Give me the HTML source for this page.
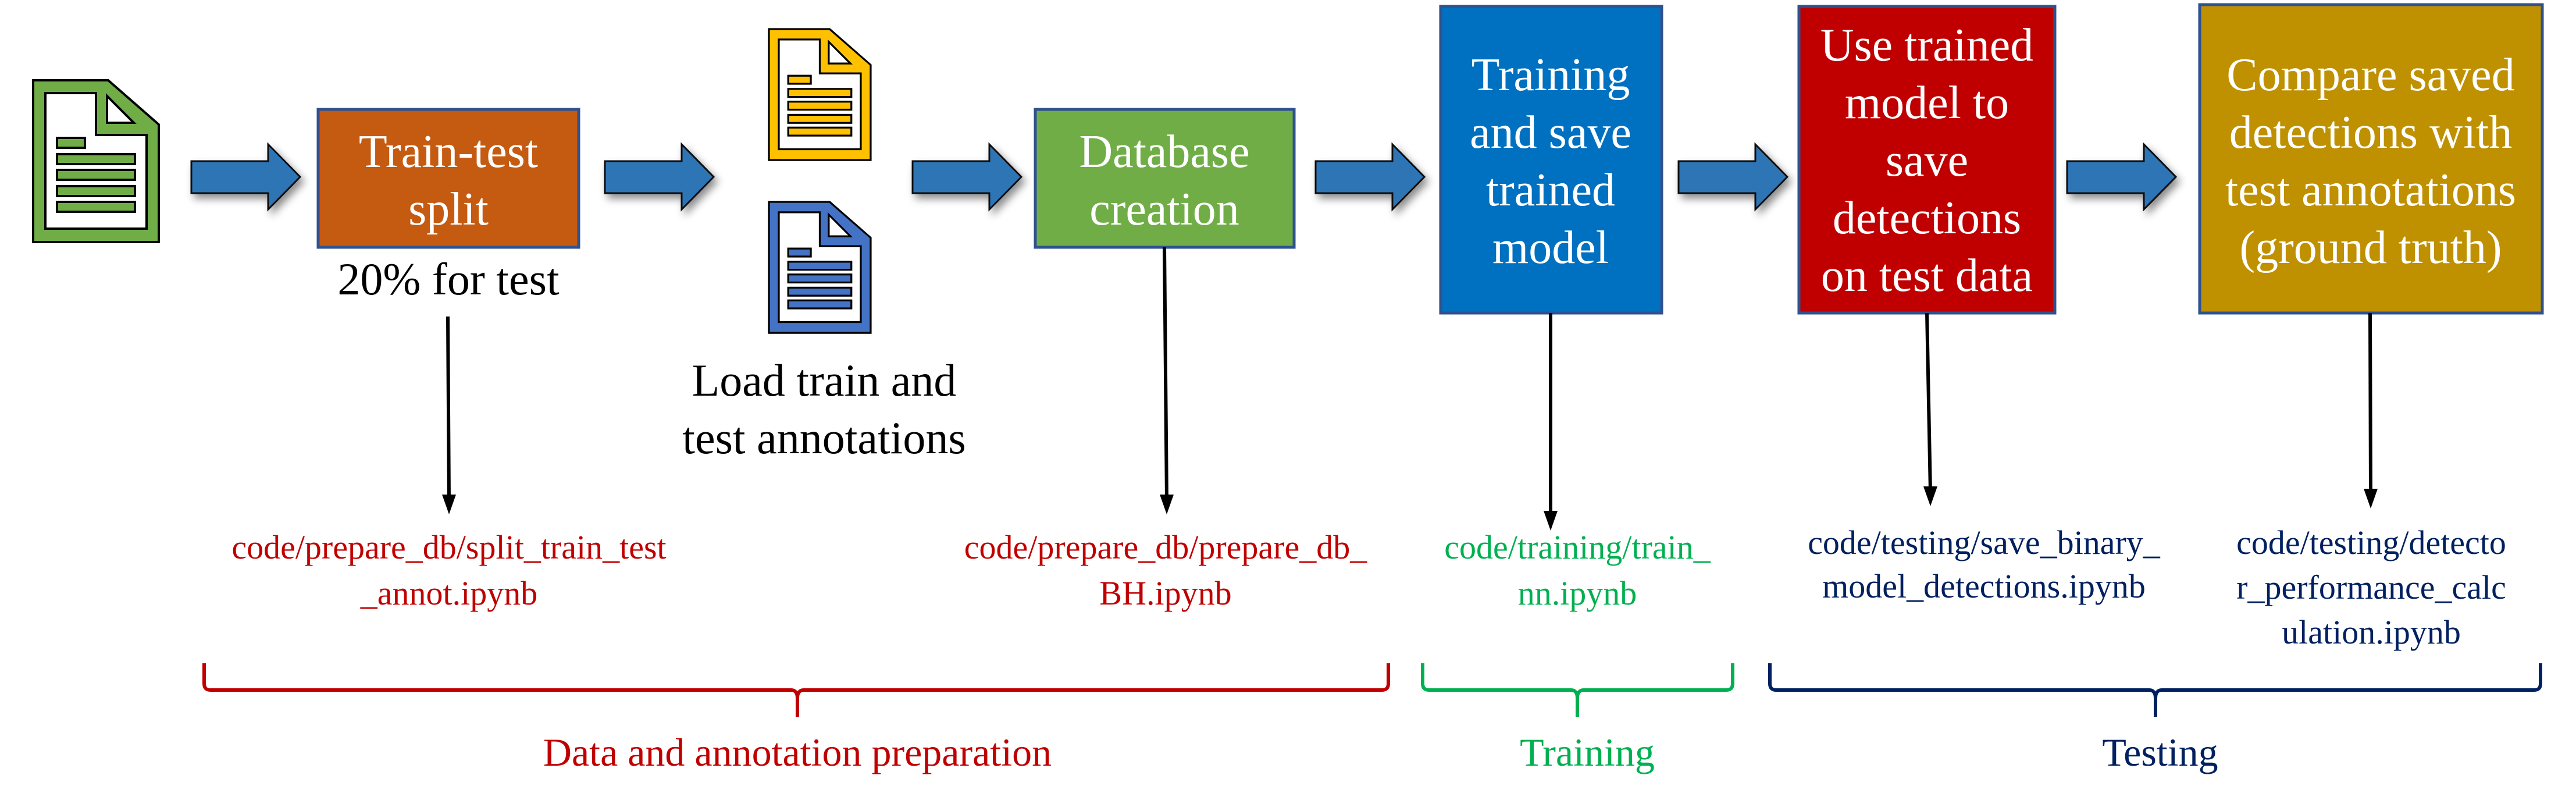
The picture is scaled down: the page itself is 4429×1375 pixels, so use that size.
<!DOCTYPE html>
<html><head><meta charset="utf-8"><style>
html,body{margin:0;padding:0;background:#fff;}
svg{display:block;font-family:"Liberation Serif","Times New Roman",serif;}
svg text{font-family:"Liberation Serif","Times New Roman",serif;}
</style></head><body>
<svg width="4429" height="1375" viewBox="0 0 4429 1375" xmlns="http://www.w3.org/2000/svg" font-family="Liberation Serif, serif">
<defs>
<filter id="sh" x="-20%" y="-30%" width="150%" height="170%"><feDropShadow dx="6" dy="8" stdDeviation="7" flood-color="#000" flood-opacity="0.45"/></filter>
<g id="arrow"><polygon points="0,29 132,29 132,0 187,56 132,112 132,84 0,84" fill="#2E75B6" stroke="#111" stroke-width="3" filter="url(#sh)"/></g>
<g id="docbase" stroke="#000" stroke-width="4">
<polygon points="0,0 129,0 216,76 216,278 0,278"/>
<polygon points="21,22 108,22 108,94 195,94 195,255 21,255" fill="#fff"/>
<polygon points="127,27 127,73 173,73" fill="#fff"/>
<rect x="41" y="99" width="48" height="17"/>
<rect x="41" y="127" width="134" height="17"/>
<rect x="41" y="154" width="134" height="17"/>
<rect x="41" y="182" width="134" height="17"/>
<rect x="41" y="209" width="134" height="17"/>
</g>
<marker id="ah" markerWidth="24" markerHeight="36" refX="12" refY="34" orient="auto-start-reverse" markerUnits="userSpaceOnUse" viewBox="0 0 24 36"><path d="M0,0 L24,0 L12,36z" fill="#000" transform="rotate(-90 12 18)"/></marker>
</defs>

<g transform="translate(57,138)" fill="#70AD47"><use href="#docbase"/></g>
<g transform="translate(1322,50) scale(0.81)" fill="#FFC000"><use href="#docbase"/></g>
<g transform="translate(1322,347) scale(0.81)" fill="#4472C4"><use href="#docbase"/></g>

<use href="#arrow" transform="translate(329,248)"/>
<use href="#arrow" transform="translate(1040,248)"/>
<use href="#arrow" transform="translate(1569,248)"/>
<use href="#arrow" transform="translate(2262,248)"/>
<use href="#arrow" transform="translate(2886,248)"/>
<use href="#arrow" transform="translate(3554,248)"/>

<rect x="547" y="188" width="448" height="237" fill="#C55A11" stroke="#2F528F" stroke-width="5"/>
<rect x="1780" y="188" width="445" height="237" fill="#70AD47" stroke="#2F528F" stroke-width="5"/>
<rect x="2477" y="11" width="380" height="527" fill="#0070C0" stroke="#2F528F" stroke-width="5"/>
<rect x="3093" y="11" width="440" height="527" fill="#C00000" stroke="#2F528F" stroke-width="5"/>
<rect x="3782" y="8" width="589" height="530" fill="#BF9000" stroke="#2F528F" stroke-width="5"/>

<g fill="#fff" font-size="80" text-anchor="middle" font-family="Liberation Serif, serif">
<text x="771" y="287">Train-test</text>
<text x="771" y="386">split</text>
<text x="2002" y="287">Database</text>
<text x="2002" y="386">creation</text>
<text x="2666" y="155">Training</text>
<text x="2666" y="254">and save</text>
<text x="2666" y="353">trained</text>
<text x="2666" y="452">model</text>
<text x="3313" y="104">Use trained</text>
<text x="3313" y="203">model to</text>
<text x="3313" y="302">save</text>
<text x="3313" y="401">detections</text>
<text x="3313" y="500">on test data</text>
<text x="4076" y="155">Compare saved</text>
<text x="4076" y="254">detections with</text>
<text x="4076" y="353">test annotations</text>
<text x="4076" y="452">(ground truth)</text>
</g>

<g fill="#000" font-size="78" text-anchor="middle" font-family="Liberation Serif, serif">
<text x="771" y="506">20% for test</text>
<text x="1417" y="680">Load train and</text>
<text x="1417" y="779">test annotations</text>
</g>

<g stroke="#000" stroke-width="6" fill="none">
<line x1="770" y1="544" x2="772" y2="860"/>
<line x1="2002" y1="425" x2="2006" y2="860"/>
<line x1="2666" y1="538" x2="2666" y2="888"/>
<line x1="3313" y1="538" x2="3319" y2="846"/>
<line x1="4075" y1="538" x2="4076" y2="850"/>
</g>
<g fill="#000">
<path d="M760,850 L784,850 L772,884z"/>
<path d="M1994,850 L2018,850 L2006,884z"/>
<path d="M2654,878 L2678,878 L2666,912z"/>
<path d="M3307,836 L3331,836 L3319,870z"/>
<path d="M4064,840 L4088,840 L4076,874z"/>
</g>

<g font-size="58" text-anchor="middle" font-family="Liberation Serif, serif">
<g fill="#C00000">
<text x="772" y="960">code/prepare_db/split_train_test</text>
<text x="772" y="1039">_annot.ipynb</text>
<text x="2004" y="960">code/prepare_db/prepare_db_</text>
<text x="2004" y="1039">BH.ipynb</text>
</g>
<g fill="#00B050">
<text x="2712" y="960">code/training/train_</text>
<text x="2712" y="1039">nn.ipynb</text>
</g>
<g fill="#002060">
<text x="3411" y="952">code/testing/save_binary_</text>
<text x="3411" y="1027">model_detections.ipynb</text>
<text x="4077" y="952">code/testing/detecto</text>
<text x="4077" y="1029">r_performance_calc</text>
<text x="4077" y="1106">ulation.ipynb</text>
</g>
</g>

<g fill="none" stroke-width="6">
<path d="M351,1140 V1175 Q351,1186 362,1186 H1360 Q1371,1186 1371,1200 V1232 M1371,1200 Q1371,1186 1382,1186 H2376 Q2387,1186 2387,1175 V1140" stroke="#C00000"/>
<path d="M2446,1140 V1175 Q2446,1186 2457,1186 H2701 Q2712,1186 2712,1200 V1232 M2712,1200 Q2712,1186 2723,1186 H2968 Q2979,1186 2979,1175 V1140" stroke="#00B050"/>
<path d="M3043,1140 V1175 Q3043,1186 3054,1186 H3695 Q3706,1186 3706,1200 V1232 M3706,1200 Q3706,1186 3717,1186 H4357 Q4368,1186 4368,1175 V1140" stroke="#002060"/>
</g>

<g font-size="68" text-anchor="middle" font-family="Liberation Serif, serif">
<text x="1371" y="1316" fill="#C00000">Data and annotation preparation</text>
<text x="2729" y="1316" fill="#00B050">Training</text>
<text x="3714" y="1316" fill="#002060">Testing</text>
</g>
</svg>
</body></html>
